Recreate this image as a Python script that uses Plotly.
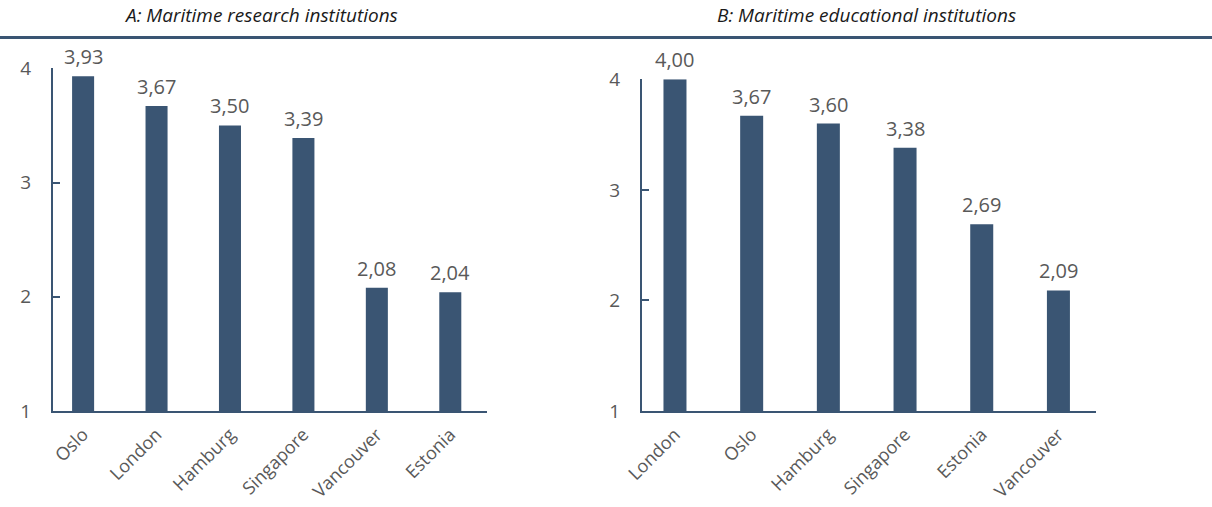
import plotly.graph_objects as go

# Panel A: maritime research institutions
research_cities = ["Oslo", "London", "Hamburg", "Singapore", "Vancouver", "Estonia"]
research_scores = [3.93, 3.67, 3.50, 3.39, 2.08, 2.04]

# Panel B: maritime educational institutions
education_cities = ["London", "Oslo", "Hamburg", "Singapore", "Estonia", "Vancouver"]
education_scores = [4.00, 3.67, 3.60, 3.38, 2.69, 2.09]

y_ticks = [1, 2, 3, 4]

W, H = 1212, 507
BAR = "#3a5573"
TEXT = "#595959"
FONT = "Open Sans"


def px_x(v):
    return v / W


def px_y(v):
    return (H - v) / H


def fmt(v):
    return f"{v:.2f}".replace(".", ",")


fig = go.Figure()
value_labels = []

for cities, scores, xa, ya in [
    (research_cities, research_scores, "x", "y"),
    (education_cities, education_scores, "x2", "y2"),
]:
    fig.add_trace(go.Bar(
        x=cities, y=scores,
        marker=dict(color=BAR, line=dict(width=0)),
        width=0.3,
        cliponaxis=False, xaxis=xa, yaxis=ya, showlegend=False,
        hovertemplate="%{x}: %{y:.2f}<extra></extra>",
    ))
    for c, s in zip(cities, scores):
        value_labels.append(dict(
            x=c, y=s, xref=xa, yref=ya, text=fmt(s),
            xanchor="center", yanchor="bottom", yshift=4, showarrow=False,
            font=dict(family=FONT, size=20, color=TEXT),
        ))

axis_common = dict(
    showline=True, linecolor=BAR, linewidth=2, showgrid=False, zeroline=False,
    automargin=False,
)
xcommon = dict(
    axis_common, type="category", ticks="", tickangle=-45,
    tickfont=dict(family=FONT, size=18, color=TEXT),
    ticklabelstandoff=4,
)
ycommon = dict(
    axis_common, range=[1, 4], tickvals=y_ticks, ticks="inside",
    ticklen=7, tickwidth=2, tickcolor=BAR,
    tickfont=dict(family=FONT, size=19, color=TEXT),
    ticklabelstandoff=16,
)

titles = [
    dict(text="<i>A: Maritime research institutions</i>", x=px_x(260.5), y=px_y(15),
         xref="paper", yref="paper", xanchor="center", yanchor="middle",
         showarrow=False, font=dict(family=FONT, size=19, color="#1a1a1a")),
    dict(text="<i>B: Maritime educational institutions</i>", x=px_x(866), y=px_y(15),
         xref="paper", yref="paper", xanchor="center", yanchor="middle",
         showarrow=False, font=dict(family=FONT, size=19, color="#1a1a1a")),
]

fig.update_layout(
    width=W, height=H,
    margin=dict(l=0, r=0, t=0, b=0, autoexpand=False),
    paper_bgcolor="white", plot_bgcolor="white",
    xaxis=dict(xcommon, domain=[px_x(53), px_x(487)], range=[-0.41, 5.5], anchor="y"),
    yaxis=dict(ycommon, domain=[px_y(411), px_y(68.3)], anchor="x"),
    xaxis2=dict(xcommon, domain=[px_x(642), px_x(1096)], range=[-0.43, 5.49], anchor="y2"),
    yaxis2=dict(ycommon, domain=[px_y(411), px_y(79.3)], anchor="x2"),
    shapes=[dict(
        type="line", xref="paper", yref="paper",
        x0=0, x1=1, y0=px_y(37.5), y1=px_y(37.5),
        line=dict(color=BAR, width=3),
    )],
    annotations=titles + value_labels,
)

fig.write_html("out.html")
